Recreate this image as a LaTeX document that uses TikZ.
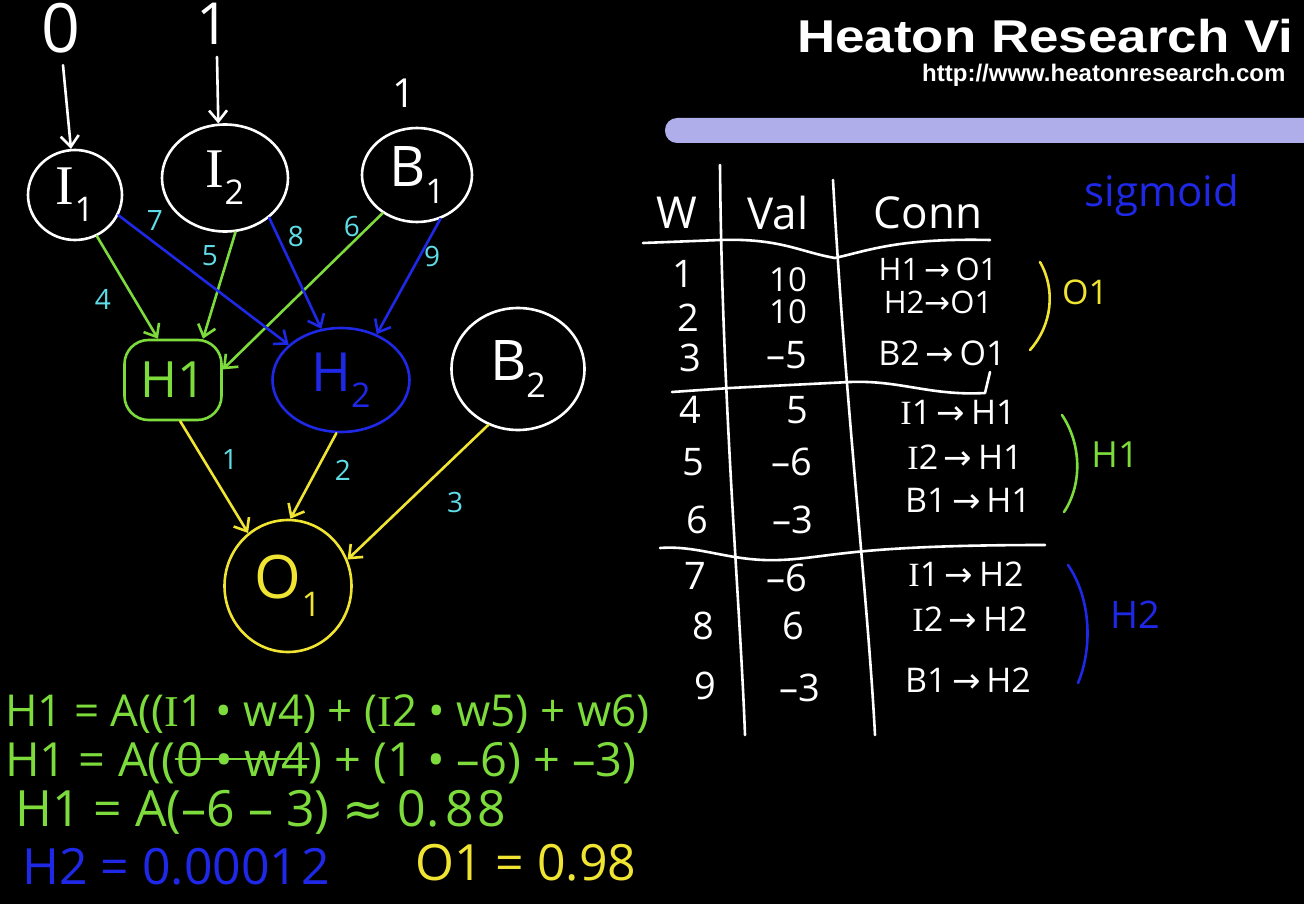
\documentclass[tikz,border=0pt]{standalone}
\usepackage{fontspec}
\setmainfont{Open Sans}
\newfontfamily\arr{DejaVu Sans}
\newfontfamily\hfont{Liberation Sans}
\newfontfamily\sfI{Liberation Serif}
\usetikzlibrary{shapes.geometric,arrows.meta}
\definecolor{hgreen}{RGB}{125,220,60}
\definecolor{hblue}{RGB}{30,40,230}
\definecolor{hyellow}{RGB}{240,228,50}
\definecolor{hcyan}{RGB}{95,220,230}
\definecolor{hbar}{RGB}{176,174,234}
\newcommand\fsz[1]{\fontsize{#1}{#1}\selectfont}
\newcommand\sbs[1]{\raisebox{-0.3em}{\fsz{34}#1}}
\newcommand\ra{{\arr\char"2192}}
\tikzset{
  chalk/.style={line width=2.6pt, line cap=round, line join=round},
  wnode/.style={ellipse, draw=white, chalk, inner sep=0pt, text=white, font=\fsz{56}},
  bnode/.style={ellipse, draw=hblue, chalk, inner sep=0pt, text=hblue, font=\fsz{54}},
  ynode/.style={ellipse, draw=hyellow, chalk, inner sep=0pt, text=hyellow, font=\fsz{60}},
  gnode/.style={rectangle, rounded corners=24pt, draw=hgreen, chalk, inner sep=0pt, text=hgreen, font=\fsz{50}},
  tip/.style={-{Straight Barb[length=11pt,width=18pt]}},
  wlab/.style={text=hcyan, font=\fsz{28}, inner sep=0pt},
  wtxt/.style={text=white, inner sep=0pt},
  hdr/.style={wtxt, font=\fsz{44}},
  num/.style={wtxt, font=\fsz{38}},
  cnn/.style={wtxt, font=\fsz{34}},
  eq/.style={inner sep=0pt, anchor=base west},
}
\begin{document}
\begin{tikzpicture}[x=1pt,y=-1pt]
\useasboundingbox (0,0) rectangle (1304,904);
\fill[black] (0,0) rectangle (1304,904);
\clip (0,0) rectangle (1304,904);

% header
\node[anchor=base west, inner sep=0pt, text=white, font=\hfont\bfseries\fsz{46}, xscale=1.15] (title) at (797,53) {Heaton Research Vi};
\node[anchor=base west, inner sep=0pt, text=white, font=\hfont\bfseries\fsz{24}] (url) at (922,82) {http://www.heatonresearch.com};
\fill[hbar, rounded corners=12pt] (665,118) rectangle (1330,143);

% inputs
\node[wtxt, font=\fsz{68}] (zero) at (61,28) {0};
\node[wtxt, font=\fsz{58}] (oneA) at (213,24) {1};
\node[wtxt, font=\fsz{40}] (oneB) at (404,93) {1};

\node[wnode, minimum width=94pt, minimum height=90pt] (I1) at (75,195) {{\sfI I}\sbs{1}};
\node[wnode, minimum width=126pt, minimum height=107pt] (I2) at (225,178) {{\sfI I}\sbs{2}};
\node[wnode, minimum width=110pt, minimum height=94pt] (B1) at (417,175) {B\sbs{1}};
\node[gnode, minimum width=97pt, minimum height=80pt] (H1) at (173,380) {H1};
\node[bnode, minimum width=137pt, minimum height=104pt] (H2) at (341,380) {H\sbs{2}};
\node[wnode, minimum width=133pt, minimum height=122pt] (B2) at (518,369) {B\sbs{2}};
\node[ynode, minimum width=127pt, minimum height=132pt] (O1) at (288,586) {O\sbs{1}};

\draw[chalk, white, tip] (zero.south) ++(2,12) coordinate (z0) (z0) -- (I1.95);
\draw[chalk, white, tip] (oneA.south) ++(4,12) coordinate (z1) (z1) -- (I2.97);

% edges to hidden layer
\draw[chalk, hgreen, tip] (I1.-62) -- (H1.110);
\draw[chalk, hgreen, tip] (I2.-79) -- (H1.54);
\draw[chalk, hgreen, tip] (B1.228) -- (H1.12);
\draw[chalk, hblue, tip] (I1.-25) -- (H2.146);
\draw[chalk, hblue, tip] (I2.-42) -- (H2.111);
\draw[chalk, hblue, tip] (B1.-62) -- (H2.52);
% edges to output
\draw[chalk, hyellow, tip] (H1.-80) -- (O1.127);
\draw[chalk, hyellow, tip] (H2.-95) -- (O1.88);
\draw[chalk, hyellow, tip] (B2.-118) -- (O1.24);

% weight labels
\node[wlab] (l7) at (155,221) {7};
\node[wlab] (l8) at (296,236) {8};
\node[wlab] (l6) at (352,226) {6};
\node[wlab] (l5) at (210,256) {5};
\node[wlab] (l9) at (432,256) {9};
\node[wlab] (l4) at (103,299) {4};
\node[wlab] (l1) at (230,460) {1};
\node[wlab] (l2) at (343,470) {2};
\node[wlab] (l3) at (455,502) {3};

% table
\node[hdr] (hW) at (677,213) {W};
\node[hdr] (hV) at (778,213) {Val};
\node[hdr] (hC) at (928,213) {Conn};
\node[text=hblue, inner sep=0pt, font=\fsz{42}] (sig) at (1162,196) {sigmoid};

\draw[chalk, white] (720,165) .. controls (722,400) and (740,600) .. (745,735);
\draw[chalk, white] (833,180) .. controls (845,400) and (868,600) .. (875,735);
\draw[chalk, white] (643,243) -- (720,240) .. controls (780,238) and (800,252) .. (835,258) .. controls (870,250) and (900,238) .. (990,240);
\draw[chalk, white] (672,392) -- (730,388) -- (850,382) .. controls (900,380) and (930,396) .. (985,393) -- (990,372);
\draw[chalk, white] (660,548) .. controls (700,545) and (730,562) .. (780,560) .. controls (830,558) and (850,545) .. (1045,545);

\node[num] (w1) at (683,274) {1};
\node[num] (w2) at (688,318) {2};
\node[num] (w3) at (690,358) {3};
\node[num] (w4) at (690,410) {4};
\node[num] (w5) at (693,462) {5};
\node[num] (w6) at (697,520) {6};
\node[num] (w7) at (695,576) {7};
\node[num] (w8) at (703,626) {8};
\node[num] (w9) at (705,686) {9};

\node[num, font=\fsz{33}] (v1) at (788,280) {10};
\node[num, font=\fsz{33}] (v2) at (788,312) {10};
\node[num] (v3) at (787,355) {–5};
\node[num] (v4) at (797,410) {5};
\node[num] (v5) at (792,462) {–6};
\node[num] (v6) at (793,520) {–3};
\node[num] (v7) at (787,578) {–6};
\node[num] (v8) at (793,626) {6};
\node[num] (v9) at (800,688) {–3};

\node[cnn, font=\fsz{31}] (c1) at (938,269) {H1\,\ra\,O1};
\node[cnn, font=\fsz{31}] (c2) at (938,302) {H2\ra O1};
\node[cnn] (c3) at (942,353) {B2\,\ra\,O1};
\node[cnn] (c4) at (958,412) {{\sfI I}1\,\ra\,H1};
\node[cnn] (c5) at (965,457) {{\sfI I}2\,\ra\,H1};
\node[cnn] (c6) at (968,500) {B1\,\ra\,H1};
\node[cnn] (c7) at (966,574) {{\sfI I}1\,\ra\,H2};
\node[cnn] (c8) at (970,619) {{\sfI I}2\,\ra\,H2};
\node[cnn] (c9) at (968,680) {B1\,\ra\,H2};

\draw[chalk, hyellow] (1040,262) .. controls (1056,290) and (1052,325) .. (1030,350);
\node[text=hyellow, inner sep=0pt, font=\fsz{34}] (bO) at (1085,292) {O1};
\draw[chalk, hgreen] (1062,415) .. controls (1082,445) and (1082,485) .. (1064,512);
\node[text=hgreen, inner sep=0pt, font=\fsz{36}] (bH1) at (1115,455) {H1};
\draw[chalk, hblue] (1068,565) .. controls (1092,600) and (1092,650) .. (1078,683);
\node[text=hblue, inner sep=0pt, font=\fsz{38}] (bH2) at (1135,615) {H2};

% equations
\node[eq, text=hgreen, font=\fsz{44}] (e1) at (5,726) {H1 = A(({\sfI I}1 • w4) + ({\sfI I}2 • w5) + w6)};
\node[eq, text=hgreen, font=\fsz{47}] (e2a) at (5,776) {H1 = A((};
\node[eq, text=hgreen, font=\fsz{47}] (e2b) at (e2a.base east) {0 • w4};
\node[eq, text=hgreen, font=\fsz{47}] (e2c) at (e2b.base east) {) + (1 • –6) + –3)};
\draw[chalk, hgreen] (e2b.west) -- (e2b.east);
\node[eq, text=hgreen, font=\fsz{50}] (e3) at (15,826) {H1 = A(–6 – 3) {\arr≈} 0.\hspace{6pt}8\hspace{4pt}8};
\node[eq, text=hblue, font=\fsz{50}] (e4) at (22,884) {H2 = 0.0001\hspace{3pt}2};
\node[eq, text=hyellow, font=\fsz{50}] (e5) at (415,880) {O1 = 0.98};
\end{tikzpicture}
\end{document}
